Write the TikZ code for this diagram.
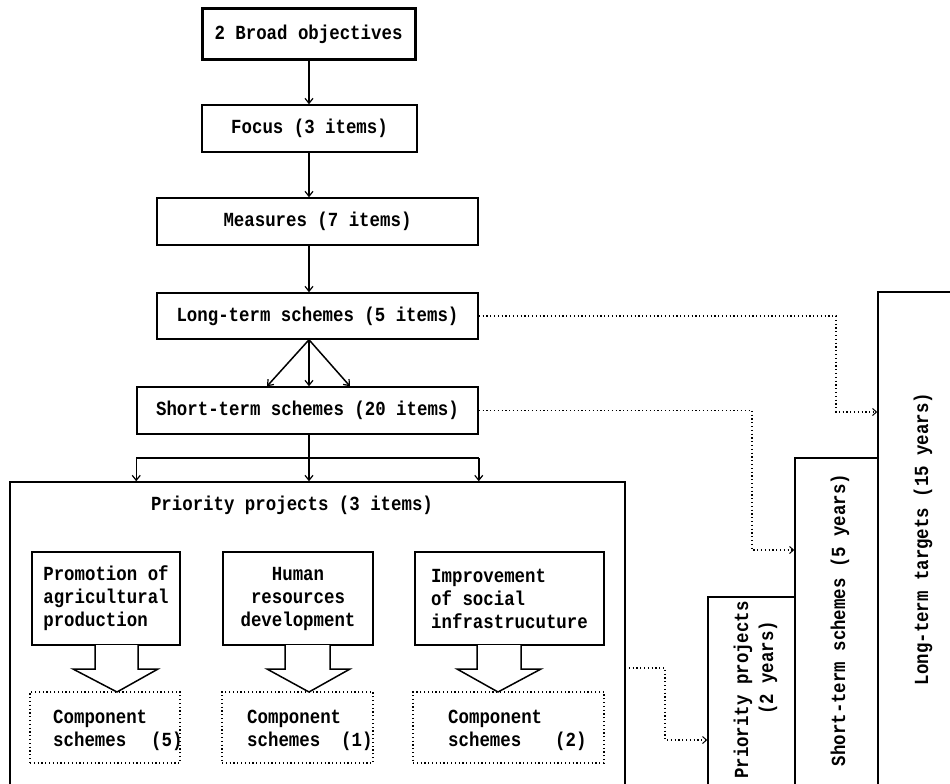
\documentclass[tikz,border=0pt]{standalone}
\usepackage{fontspec}
\newfontfamily\dm{Liberation Mono}[FakeStretch=0.87]
\usetikzlibrary{arrows.meta}
\tikzset{
 bx/.style={draw, line width=1.5pt, inner sep=0pt, rectangle},
 dbx/.style={draw, line width=1.2pt, dash pattern=on 1.2pt off 2.6pt, inner sep=0pt, rectangle},
 arr/.style={line width=1.5pt, -{Straight Barb[length=5pt,width=8pt,line width=1.2pt]}},
 dcon/.style={line width=1.2pt, dash pattern=on 1.2pt off 2.6pt, -{Straight Barb[length=4pt,width=7pt,line width=1pt]}},
 blk/.style={line width=1.5pt, fill=white, line join=miter},
 txt/.style={inner sep=0pt, anchor=base west},
 vtxt/.style={inner sep=0pt, rotate=90},
}
\begin{document}
\begin{tikzpicture}[x=1pt,y=-1pt, font=\dm\bfseries\fontsize{20}{23}\selectfont]
\clip (0,0) rectangle (950,784);
\fill[white] (0,0) rectangle (950,784);
\coordinate (spine) at (309,0);
% main chain
\node[bx, line width=3pt, minimum width=213pt, minimum height=51pt] (obj) at (308.5,34.5) {2 Broad objectives};
\node[bx, minimum width=215pt, minimum height=47pt] (focus) at (309.5,128.5) {Focus (3 items)};
\node[bx, minimum width=321pt, minimum height=47pt] (meas) at (317.5,221.5) {Measures (7 items)};
\node[bx, minimum width=321pt, minimum height=46pt] (lts) at (317.5,316) {Long-term schemes (5 items)};
\node[bx, minimum width=341pt, minimum height=47pt] (sts) at (307.5,410.5) {Short-term schemes (20 items)};
% big priority box
\node[bx, minimum width=615pt, minimum height=318pt] (pp) at (317.5,641) {};
\node[inner sep=0pt] (pptitle) at (292,505) {Priority projects (3 items)};
% inner boxes
\node[bx, minimum width=148pt, minimum height=93pt, align=left] (b1) at (106,598.5) {Promotion of\\agricultural\\production};
\node[bx, minimum width=150pt, minimum height=93pt, align=center] (b2) at (298,598.5) {Human\\resources\\development};
\node[bx, minimum width=189pt, minimum height=93pt, align=left] (b3) at (509.5,598.5) {Improvement\\of social\\infrastrucuture};
% component boxes
\node[dbx, minimum width=150pt, minimum height=71pt] (c1) at (105,727.5) {};
\node[dbx, minimum width=151pt, minimum height=71pt] (c2) at (297.5,727.5) {};
\node[dbx, minimum width=191pt, minimum height=71pt] (c3) at (508.5,727.5) {};
\node[txt] (c1a) at (53,723) {Component};
\node[txt] (c1b) at (53,746) {schemes};
\node[txt] (c1c) at (151,746) {(5)};
\node[txt] (c2a) at (247,723) {Component};
\node[txt] (c2b) at (247,746) {schemes};
\node[txt] (c2c) at (341,746) {(1)};
\node[txt] (c3a) at (448,723) {Component};
\node[txt] (c3b) at (448,746) {schemes};
\node[txt] (c3c) at (555,746) {(2)};
% block arrows
\draw[blk] (95,645) -- (95,669) -- (73,669) -- (117,692) -- (158,669) -- (138,669) -- (138,645);
\draw[blk] (285,645) -- (285,669) -- (267,669) -- (309,692) -- (350,669) -- (330,669) -- (330,645);
\draw[blk] (477,645) -- (477,669) -- (457,669) -- (498,692) -- (541,669) -- (521,669) -- (521,645);
% right boxes
\node[bx, minimum width=87pt, minimum height=203pt] (ppy) at (751.5,698.5) {};
\node[bx, minimum width=83pt, minimum height=342pt] (sty) at (836.5,629) {};
\node[bx, minimum width=82pt, minimum height=508pt] (lty) at (919,546) {};
\node[vtxt] (ppyt1) at (743,690) {Priority projects};
\node[vtxt] (ppyt2) at (768,668) {(2 years)};
\node[vtxt] (styt) at (840,620) {Short-term schemes (5 years)};
\node[vtxt] (ltyt) at (923,539) {Long-term targets (15 years)};
% solid arrows
\draw[arr] (obj.south -| spine) -- (focus.north -| spine);
\draw[arr] (focus.south -| spine) -- (meas.north -| spine);
\draw[arr] (meas.south -| spine) -- (lts.north -| spine);
\coordinate (fl) at (267,0);
\coordinate (fr) at (350,0);
\draw[arr] (lts.south -| spine) -- (sts.north -| fl);
\draw[arr] (lts.south -| spine) -- (sts.north -| spine);
\draw[arr] (lts.south -| spine) -- (sts.north -| fr);
\coordinate (fork) at (309,458);
\draw[arr] (sts.south -| spine) -- (pp.north -| spine);
\draw[line width=1.5pt] (fork -| sts.west) -- (fork -| sts.east);
\draw[arr] (fork -| sts.west) -- (pp.north -| sts.west);
\draw[arr] (fork -| sts.east) -- (pp.north -| sts.east);
% dotted connectors
\coordinate (k1) at (836,412);
\coordinate (k2) at (752,550);
\coordinate (k3) at (665,740);
\draw[dcon] (lts.east) -- (lts.east -| k1) -- (k1) -- (k1 -| lty.west);
\draw[dcon] (sts.east) -- (sts.east -| k2) -- (k2) -- (k2 -| sty.west);
\coordinate (ppo) at (625,668);
\draw[dcon] (ppo) -- (ppo -| k3) -- (k3) -- (k3 -| ppy.west);
\end{tikzpicture}
\end{document}
